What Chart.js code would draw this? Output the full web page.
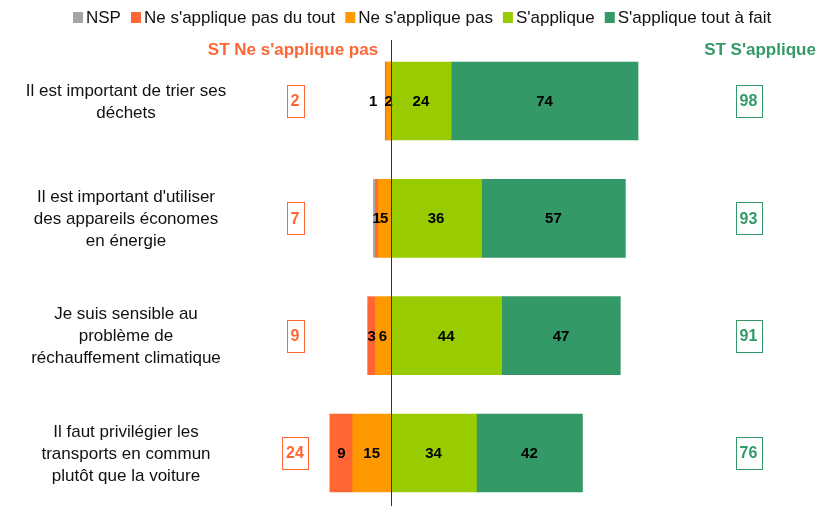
<!DOCTYPE html>
<html>
<head>
<meta charset="utf-8">
<script src="https://cdn.jsdelivr.net/npm/chart.js@4/dist/chart.umd.min.js"></script>
<style>
  html,body{margin:0;padding:0;background:#fff;overflow:hidden}
  #wrap{width:819px;height:506px}
</style>
</head>
<body>
<div id="wrap"><canvas id="chart" width="819" height="506"></canvas></div>
<script>
// categories (one array of lines each)
const categories = [
  ['Il est important de trier ses', 'déchets'],
  ["Il est important d'utiliser", 'des appareils économes', 'en énergie'],
  ['Je suis sensible au', 'problème de', 'réchauffement climatique'],
  ['Il faut privilégier les', 'transports en commun', 'plutôt que la voiture']
];
// series values (%), negative side kept as positive numbers
const nsp       = [0, 0.8, 0, 0];
const pasDuTout = [0.5, 1, 3, 9];
const pas       = [1.6, 5, 6, 15];
const sApplique = [24, 36, 44, 34];
const toutAFait = [74, 57, 47, 42];
// sub-totals
const stNeg = [2, 7, 9, 24];
const stPos = [98, 93, 91, 76];

const FONT = "'Liberation Sans', Arial, sans-serif";
const RED = '#FF6633', ORANGE = '#FF9900', GRAY = '#A5A5A5', LGREEN = '#99CC00', DGREEN = '#339966';

const neg = arr => arr.map(v => -v);

// dataset order = stacking order from the zero line outwards
const datasets = [
  {label: "Ne s'applique pas", data: neg(pas), backgroundColor: ORANGE, showValue: true},
  {label: "Ne s'applique pas du tout", data: neg(pasDuTout), backgroundColor: RED, showValue: true},
  {label: 'NSP', data: neg(nsp), backgroundColor: GRAY, showValue: false},
  {label: "S'applique", data: sApplique, backgroundColor: LGREEN, showValue: true},
  {label: "S'applique tout à fait", data: toutAFait, backgroundColor: DGREEN, showValue: true}
].map(d => Object.assign(d, {stack: 's', barThickness: 78, borderWidth: 0, clip: false}));

const legendOrder = ['NSP', "Ne s'applique pas du tout", "Ne s'applique pas", "S'applique", "S'applique tout à fait"];

const overlay = {
  id: 'overlay',
  afterDatasetsDraw(chart){
    const ctx = chart.ctx;
    const xs = chart.scales.x, ys = chart.scales.y;
    const zero = xs.getPixelForValue(0);
    ctx.save();

    // values inside the bars
    ctx.font = 'bold 15px ' + FONT;
    ctx.fillStyle = '#000';
    ctx.textAlign = 'center';
    ctx.textBaseline = 'middle';
    categories.forEach((c, j) => {
      let prevLeft = null;
      chart.data.datasets.forEach((ds, i) => {
        const v = ds.data[j];
        if(!ds.showValue || !v) return;
        const bar = chart.getDatasetMeta(i).data[j];
        const txt = String(Math.round(Math.abs(v)));
        const w = ctx.measureText(txt).width;
        let cx = (bar.x + bar.base) / 2;
        if(v < 0){
          if(prevLeft !== null && cx + w / 2 > prevLeft + 2) cx = prevLeft - 7 - w / 2;
          prevLeft = cx - w / 2;
        }
        ctx.fillText(txt, cx, bar.y + 1);
      });
    });

    // zero line
    ctx.strokeStyle = '#333';
    ctx.lineWidth = 1;
    ctx.beginPath();
    ctx.moveTo(Math.round(zero) + 0.5, 40);
    ctx.lineTo(Math.round(zero) + 0.5, 506);
    ctx.stroke();

    // category labels
    ctx.font = '17px ' + FONT;
    ctx.fillStyle = '#111';
    const lh = 22;
    categories.forEach((lines, j) => {
      const y = ys.getPixelForValue(j);
      lines.forEach((ln, k) => {
        ctx.fillText(ln, 126, y + 1 + (k - (lines.length - 1) / 2) * lh);
      });
    });

    // sub-total headers
    ctx.font = 'bold 17px ' + FONT;
    ctx.fillStyle = RED;
    ctx.fillText("ST Ne s'applique pas", 293, 50);
    ctx.fillStyle = DGREEN;
    ctx.fillText("ST S'applique", 760, 50);

    // sub-total boxes
    ctx.font = 'bold 16px ' + FONT;
    const box = (txt, cx, cy, col) => {
      const w = ctx.measureText(txt).width + 8;
      ctx.strokeStyle = col;
      ctx.strokeRect(Math.round(cx - w / 2) + 0.5, Math.round(cy - 16) + 0.5, Math.round(w), 32);
      ctx.fillStyle = col;
      ctx.fillText(txt, cx, cy + 1);
    };
    categories.forEach((c, j) => {
      const y = ys.getPixelForValue(j);
      box(String(stNeg[j]), 295, y, RED);
      box(String(stPos[j]), 748.5, y, DGREEN);
    });

    // legend
    ctx.font = '17px ' + FONT;
    ctx.textAlign = 'left';
    let lx = 73;
    legendOrder.forEach(name => {
      const ds = chart.data.datasets.find(d => d.label === name);
      ctx.fillStyle = ds.backgroundColor;
      ctx.fillRect(lx, 12, 10, 11);
      ctx.fillStyle = '#111';
      ctx.fillText(name, lx + 13, 18);
      lx += 13 + ctx.measureText(name).width + 10;
    });
    ctx.restore();
  }
};

new Chart(document.getElementById('chart'), {
  type: 'bar',
  data: {labels: categories, datasets},
  options: {
    indexAxis: 'y',
    responsive: false,
    devicePixelRatio: 1,
    animation: false,
    layout: {padding: {left: 330, right: 181, top: 101, bottom: 53}},
    scales: {
      x: {type: 'linear', min: -24, max: 98, stacked: true, display: false},
      y: {stacked: true, display: false, offset: false}
    },
    plugins: {legend: {display: false}, tooltip: {enabled: false}}
  },
  plugins: [overlay]
});
</script>
</body>
</html>
